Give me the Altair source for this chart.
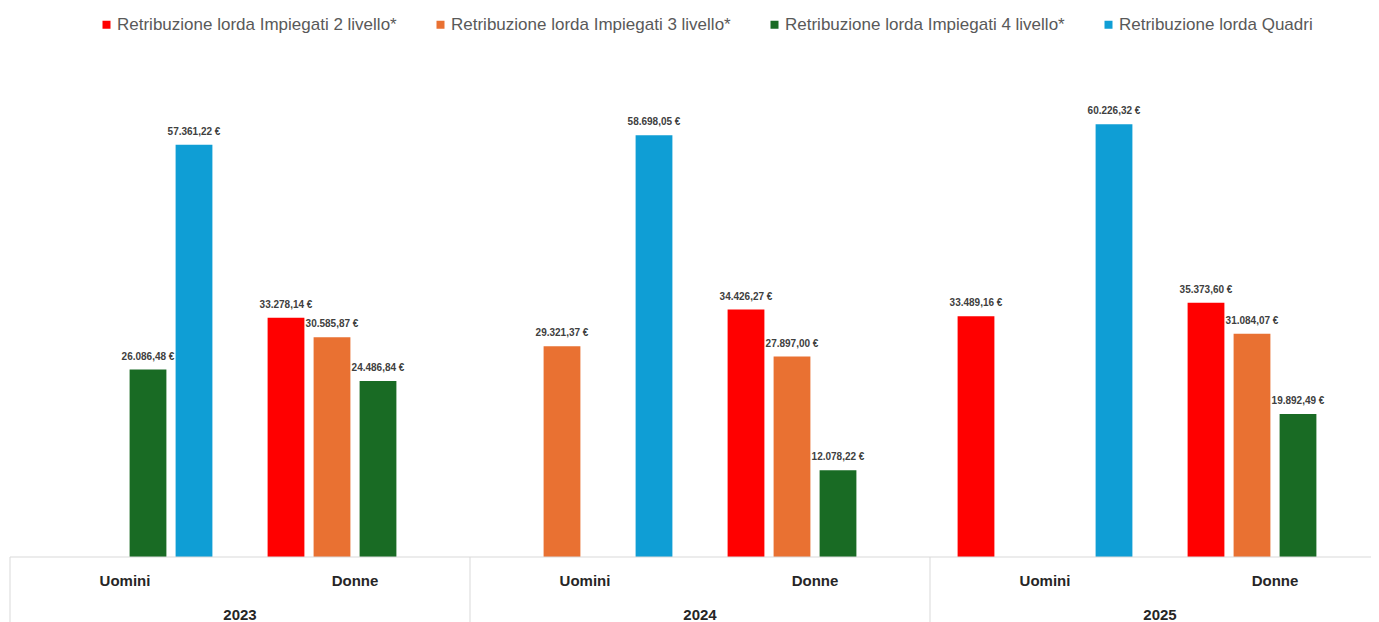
import altair as alt
import pandas as pd

years = ["2023", "2024", "2025"]
genders = ["Uomini", "Donne"]
series = [
    "Retribuzione lorda Impiegati 2 livello*",
    "Retribuzione lorda Impiegati 3 livello*",
    "Retribuzione lorda Impiegati 4 livello*",
    "Retribuzione lorda Quadri",
]
colors = ["#FF0000", "#E97132", "#196B24", "#0F9ED5"]

# values per category: 2023 Uomini, 2023 Donne, 2024 Uomini, 2024 Donne, 2025 Uomini, 2025 Donne
liv2 = [None, 33278.14, None, 34426.27, 33489.16, 35373.60]
liv3 = [None, 30585.87, 29321.37, 27897.00, None, 31084.07]
liv4 = [26086.48, 24486.84, None, 12078.22, None, 19892.49]
quadri = [57361.22, None, 58698.05, None, 60226.32, None]

cats = [f"{y}|{g}" for y in years for g in genders]


def fmt(v):
    s = f"{v:,.2f}"
    return s.replace(",", "X").replace(".", ",").replace("X", ".") + " €"


rows = []
for s, vals in zip(series, [liv2, liv3, liv4, quadri]):
    for c, v in zip(cats, vals):
        if v is not None:
            rows.append({"cat": c, "serie": s, "valore": v, "etichetta": fmt(v)})
df = pd.DataFrame(rows)

cat_df = pd.DataFrame({"cat": cats, "genere": [g for y in years for g in genders]})
year_df = pd.DataFrame({"cat": [f"{y}|Uomini" for y in years], "anno": years})
sep_df = pd.DataFrame({"cat": [f"{y}|Uomini" for y in years]})
one = pd.DataFrame({"a": [0]})

W, H = 1361, 503
FULL = 1380  # the category axis continues past the visible right edge
FONT = "Liberation Sans"
GRID = "#D9D9D9"

xscale = alt.Scale(domain=cats, range=[0, FULL], paddingInner=0, paddingOuter=0)
offscale = alt.Scale(domain=series, paddingInner=0.2, paddingOuter=0.6)
yscale = alt.Scale(domain=[0, 70000], nice=False, zero=True)

base = alt.Chart(df).encode(
    x=alt.X("cat:N", scale=xscale, axis=None),
    xOffset=alt.XOffset("serie:N", scale=offscale),
    y=alt.Y("valore:Q", scale=yscale, axis=None),
)

bars = base.mark_bar().encode(
    color=alt.Color(
        "serie:N",
        scale=alt.Scale(domain=series, range=colors),
        legend=alt.Legend(
            title=None,
            orient="none",
            direction="horizontal",
            columns=4,
            legendX=88,
            legendY=-38,
            symbolType="square",
            symbolSize=64,
            symbolStrokeWidth=0,
            labelFont=FONT,
            labelFontSize=17,
            labelColor="#595959",
            labelOffset=2,
            labelLimit=400,
            columnPadding=35,
            padding=0,
        ),
    )
)

labels = base.mark_text(
    baseline="bottom", dy=-8, font=FONT, fontSize=10, fontWeight="bold", color="#404040"
).encode(text="etichetta:N")

baseline = alt.Chart(one).mark_rule(color=GRID, strokeWidth=1).encode(
    x=alt.value(0), x2=alt.value(FULL), y=alt.value(H)
)

seps = alt.Chart(sep_df).mark_rule(color=GRID, strokeWidth=1).encode(
    x=alt.X("cat:N", scale=xscale, axis=None, bandPosition=0),
    y=alt.value(H),
    y2=alt.value(H + 70),
)

gender_labels = alt.Chart(cat_df).mark_text(
    font=FONT, fontSize=15, fontWeight="bold", color="#262626", baseline="middle"
).encode(
    x=alt.X("cat:N", scale=xscale, axis=None),
    y=alt.value(H + 24),
    text="genere:N",
)

year_labels = alt.Chart(year_df).mark_text(
    font=FONT, fontSize=15, fontWeight="bold", color="#262626", baseline="middle"
).encode(
    x=alt.X("cat:N", scale=xscale, axis=None, bandPosition=1),
    y=alt.value(H + 58),
    text="anno:N",
)

chart = (
    alt.layer(bars, labels, baseline, seps, gender_labels, year_labels)
    .properties(
        width=W,
        height=H,
        autosize=alt.AutoSizeParams(type="none"),
        padding={"left": 2, "top": 46, "right": 0, "bottom": 65},
    )
    .configure_view(stroke=None)
)

chart.save("out.html", embed_options={"renderer": "svg", "actions": False})
